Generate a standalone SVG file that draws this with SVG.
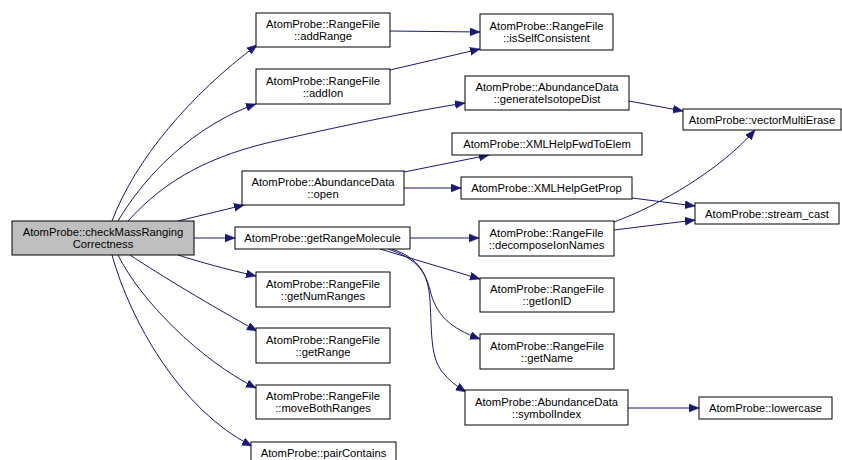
<svg xmlns="http://www.w3.org/2000/svg" width="842" height="460" viewBox="0 0 842 460">
  <style>
    .node rect { fill: #ffffff; stroke: #000000; stroke-width: 1; }
    .node.root rect { fill: #bfbfbf; }
    .node text { font-family: "Liberation Sans", Arial, Helvetica, sans-serif; font-size: 11.25px; fill: #000000; text-anchor: middle; }
    .edge { fill: none; stroke: #191970; stroke-width: 1; marker-end: url(#arrow); }
  </style>
  <defs>
    <marker id="arrow" markerUnits="userSpaceOnUse" markerWidth="12" markerHeight="9" refX="10" refY="4" orient="auto">
      <path d="M0,0 L10,4 L0,8 Z" fill="#191970" stroke="#191970" stroke-width="0.5"/>
    </marker>
  </defs>
  <rect width="842" height="460" fill="#ffffff"/>

  <g id="connectors">
    <!-- calls made by checkMassRangingCorrectness -->
    <path class="edge" d="M112,221 C135,160 190,95 257,45"/>
    <path class="edge" d="M118,221 C145,175 195,125 256,104"/>
    <path class="edge" d="M128,221 C165,180 210,155 280,140 C350,124 420,110 465,103"/>
    <path class="edge" d="M178,221 L244,205"/>
    <path class="edge" d="M194,238 L235,238"/>
    <path class="edge" d="M178,255 C200,262 225,269 256,276"/>
    <path class="edge" d="M130,255 C160,275 210,305 257,331"/>
    <path class="edge" d="M118,255 C140,300 200,360 256,388"/>
    <path class="edge" d="M112,255 C130,320 180,410 252,446"/>
    <!-- RangeFile helpers -->
    <path class="edge" d="M390,31 L480,32"/>
    <path class="edge" d="M390,70 L480,49"/>
    <!-- AbundanceData -->
    <path class="edge" d="M629,101 L683,111"/>
    <path class="edge" d="M404,172 L489,155"/>
    <path class="edge" d="M404,188 L461,188"/>
    <path class="edge" d="M632,198 L695,206"/>
    <!-- getRangeMolecule -->
    <path class="edge" d="M410,238 L479,238"/>
    <path class="edge" d="M380,249 L480,279"/>
    <path class="edge" d="M388,249 C415,258 425,270 430,290 C436,315 450,328 480,339"/>
    <path class="edge" d="M392,249 C418,258 428,272 430,300 C432,335 430,360 445,375 C452,383 458,387 466,392"/>
    <!-- decomposeIonNames -->
    <path class="edge" d="M614,230 L695,220"/>
    <path class="edge" d="M614,222 C660,205 720,170 755,130"/>
    <!-- symbolIndex -->
    <path class="edge" d="M628,408 L699,408"/>
  </g>

  <g id="checkMassRangingCorrectness" class="node root">
    <rect x="12" y="221" width="182" height="34"/>
    <text x="103" y="236">AtomProbe::checkMassRanging</text>
    <text x="103" y="248">Correctness</text>
  </g>
  <g id="addRange" class="node">
    <rect x="256" y="13" width="134" height="34"/>
    <text x="323" y="28">AtomProbe::RangeFile</text>
    <text x="323" y="40">::addRange</text>
  </g>
  <g id="isSelfConsistent" class="node">
    <rect x="480" y="14" width="133" height="36"/>
    <text x="546.5" y="30">AtomProbe::RangeFile</text>
    <text x="546.5" y="42">::isSelfConsistent</text>
  </g>
  <g id="addIon" class="node">
    <rect x="256" y="69" width="134" height="35"/>
    <text x="323" y="84.5">AtomProbe::RangeFile</text>
    <text x="323" y="96.5">::addIon</text>
  </g>
  <g id="generateIsotopeDist" class="node">
    <rect x="465" y="76" width="164" height="34"/>
    <text x="547" y="91">AtomProbe::AbundanceData</text>
    <text x="547" y="103">::generateIsotopeDist</text>
  </g>
  <g id="vectorMultiErase" class="node">
    <rect x="683" y="109" width="158" height="21"/>
    <text x="762" y="123.5">AtomProbe::vectorMultiErase</text>
  </g>
  <g id="XMLHelpFwdToElem" class="node">
    <rect x="452" y="133" width="190" height="22"/>
    <text x="547" y="148">AtomProbe::XMLHelpFwdToElem</text>
  </g>
  <g id="open" class="node">
    <rect x="242" y="171" width="162" height="34"/>
    <text x="323" y="186">AtomProbe::AbundanceData</text>
    <text x="323" y="198">::open</text>
  </g>
  <g id="XMLHelpGetProp" class="node">
    <rect x="461" y="177" width="171" height="22"/>
    <text x="546.5" y="192">AtomProbe::XMLHelpGetProp</text>
  </g>
  <g id="stream_cast" class="node">
    <rect x="695" y="203" width="144" height="21"/>
    <text x="767" y="217.5">AtomProbe::stream_cast</text>
  </g>
  <g id="getRangeMolecule" class="node">
    <rect x="235" y="227" width="175" height="22"/>
    <text x="322.5" y="242">AtomProbe::getRangeMolecule</text>
  </g>
  <g id="decomposeIonNames" class="node">
    <rect x="479" y="221" width="135" height="35"/>
    <text x="546.5" y="236.5">AtomProbe::RangeFile</text>
    <text x="546.5" y="248.5">::decomposeIonNames</text>
  </g>
  <g id="getNumRanges" class="node">
    <rect x="256" y="272" width="134" height="35"/>
    <text x="323" y="287.5">AtomProbe::RangeFile</text>
    <text x="323" y="299.5">::getNumRanges</text>
  </g>
  <g id="getIonID" class="node">
    <rect x="480" y="278" width="134" height="34"/>
    <text x="547" y="293">AtomProbe::RangeFile</text>
    <text x="547" y="305">::getIonID</text>
  </g>
  <g id="getRange" class="node">
    <rect x="256" y="328" width="134" height="35"/>
    <text x="323" y="343.5">AtomProbe::RangeFile</text>
    <text x="323" y="355.5">::getRange</text>
  </g>
  <g id="getName" class="node">
    <rect x="480" y="334" width="134" height="35"/>
    <text x="547" y="349.5">AtomProbe::RangeFile</text>
    <text x="547" y="361.5">::getName</text>
  </g>
  <g id="moveBothRanges" class="node">
    <rect x="256" y="385" width="134" height="34"/>
    <text x="323" y="400">AtomProbe::RangeFile</text>
    <text x="323" y="412">::moveBothRanges</text>
  </g>
  <g id="symbolIndex" class="node">
    <rect x="465" y="390" width="163" height="35"/>
    <text x="546.5" y="405.5">AtomProbe::AbundanceData</text>
    <text x="546.5" y="417.5">::symbolIndex</text>
  </g>
  <g id="lowercase" class="node">
    <rect x="699" y="397" width="133" height="22"/>
    <text x="765.5" y="412">AtomProbe::lowercase</text>
  </g>
  <g id="pairContains" class="node">
    <rect x="251" y="442" width="145" height="22"/>
    <text x="323.5" y="457">AtomProbe::pairContains</text>
  </g>
</svg>
